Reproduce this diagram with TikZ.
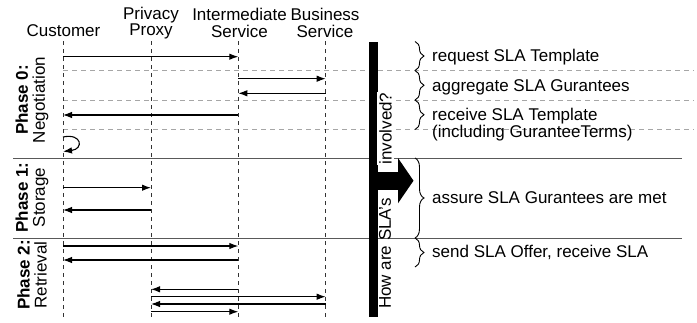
\documentclass[tikz,border=0pt]{standalone}
\usepackage{fontspec}
\setmainfont{Liberation Sans}
\usetikzlibrary{arrows.meta,decorations.pathreplacing}
\begin{document}
\begin{tikzpicture}[x=1pt,y=-1pt,
  every node/.style={font=\fontsize{17}{16.5}\selectfont, inner sep=0pt},
  life/.style={draw=black!80, line width=0.8pt, dash pattern=on 4pt off 4pt},
  sepline/.style={draw=black!35, line width=0.8pt, dash pattern=on 5pt off 4pt},
  phaseline/.style={draw=black!65, line width=0.9pt},
  msg/.style={draw=black, line width=1.1pt, -{Latex[length=9pt,width=6.5pt]}},
  brc/.style={draw=black, decorate, decoration={brace, amplitude=9pt}, line width=0.9pt},
  hdr/.style={align=center},
  rtext/.style={anchor=west, align=left},
  phaselabel/.style={rotate=90, align=center, font=\fontsize{17}{17}\selectfont},
]
\useasboundingbox (0,0) rectangle (697,322);

% headers
\node[hdr] (cust) at (63.5,31) {Customer};
\node[hdr] (prox) at (151,23) {Privacy\\Proxy};
\node[hdr] (inter) at (239.5,23) {Intermediate\\Service};
\node[hdr] (bus) at (325,23) {Business\\Service};

% lifeline coordinates
\coordinate (C) at (63,41);
\coordinate (P) at (151,41);
\coordinate (I) at (238.3,41);
\coordinate (B) at (325.7,41);
\coordinate (Ce) at (63,318);
\coordinate (Pe) at (151,318);
\coordinate (Ie) at (238.3,318);
\coordinate (Be) at (325.7,318);

% separators
\coordinate (s1a) at (63,70.5);  \coordinate (s1b) at (694,70.5);
\coordinate (s2a) at (63,100);   \coordinate (s2b) at (694,100);
\coordinate (s3a) at (63,129.5); \coordinate (s3b) at (694,129.5);
\coordinate (p1a) at (13,158);   \coordinate (p1b) at (682,158);
\coordinate (p2a) at (13,238);   \coordinate (p2b) at (682,238);
\draw[sepline] (s1a) -- (s1b);
\draw[sepline] (s2a) -- (s2b);
\draw[sepline] (s3a) -- (s3b);
\draw[phaseline] (p1a) -- (p1b);
\draw[phaseline] (p2a) -- (p2b);

% lifelines
\draw[life] (C) -- (Ce);
\draw[life] (P) -- (Pe);
\draw[life] (I) -- (Ie);
\draw[life] (B) -- (Be);

% phase labels
\node[phaselabel] (ph0) at (32,100) {\textbf{Phase 0:}\\Negotiation};
\node[phaselabel] (ph1) at (32,197.5) {\textbf{Phase 1:}\\Storage};
\node[phaselabel] (ph2) at (32,275) {\textbf{Phase 2:}\\Retrieval};

% messages phase 0
\draw[msg] (C |- 0,56.7) -- (I |- 0,56.7);
\draw[msg] (I |- 0,78.7) -- (B |- 0,78.7);
\draw[msg] (B |- 0,93.3) -- (I |- 0,93.3);
\draw[msg] (I |- 0,115) -- (C |- 0,115);
\draw[msg] (C |- 0,137) .. controls (82,133) and (84,149) .. (C |- 0,151.5);
% phase 1
\draw[msg] (C |- 0,187.7) -- (P |- 0,187.7);
\draw[msg] (P |- 0,210) -- (C |- 0,210);
% phase 2
\draw[msg] (C |- 0,246) -- (I |- 0,246);
\draw[msg] (I |- 0,260) -- (C |- 0,260);
\draw[msg] (I |- 0,289.3) -- (P |- 0,289.3);
\draw[msg] (P |- 0,296.7) -- (B |- 0,296.7);
\draw[msg] (B |- 0,304) -- (P |- 0,304);
\draw[msg] (P |- 0,311.7) -- (I |- 0,311.7);

% vertical bar with text and arrow
\fill[black] (368.5,41.5) rectangle (378,317);
\node[rotate=90, fill=white, inner xsep=1pt, inner ysep=2pt] (inv) at (385.5,128.5) {involved?};
\node[rotate=90] (how) at (385,253.5) {How are SLA's};
\fill[black] (377,171.5) rectangle (398.5,190);
\fill[black] (398,158) -- (413.5,180.7) -- (398,203.3) -- cycle;

% braces
\coordinate (b0) at (415,41.5);
\coordinate (b1) at (415,70.5);
\coordinate (b2) at (415,100);
\coordinate (b3) at (415,129.5);
\coordinate (b4) at (415,158);
\coordinate (b5) at (415,238);
\coordinate (b6) at (415,267);
\draw[brc] (b0) -- (b1);
\draw[brc] (b1) -- (b2);
\draw[brc] (b2) -- (b3);
\draw[brc] (b4) -- (b5);
\draw[brc] (b5) -- (b6);

% right texts
\node[rtext] (t1) at (432,57) {request SLA Template};
\node[rtext] (t2) at (432,87) {aggregate SLA Gurantees};
\node[rtext, font=\fontsize{17}{15}\selectfont] (t3) at (432,124.5) {receive SLA Template\\(including GuranteeTerms)};
\node[rtext] (t4) at (432,197.5) {assure SLA Gurantees are met};
\node[rtext] (t5) at (432,252.5) {send SLA Offer, receive SLA};
\end{tikzpicture}
\end{document}
